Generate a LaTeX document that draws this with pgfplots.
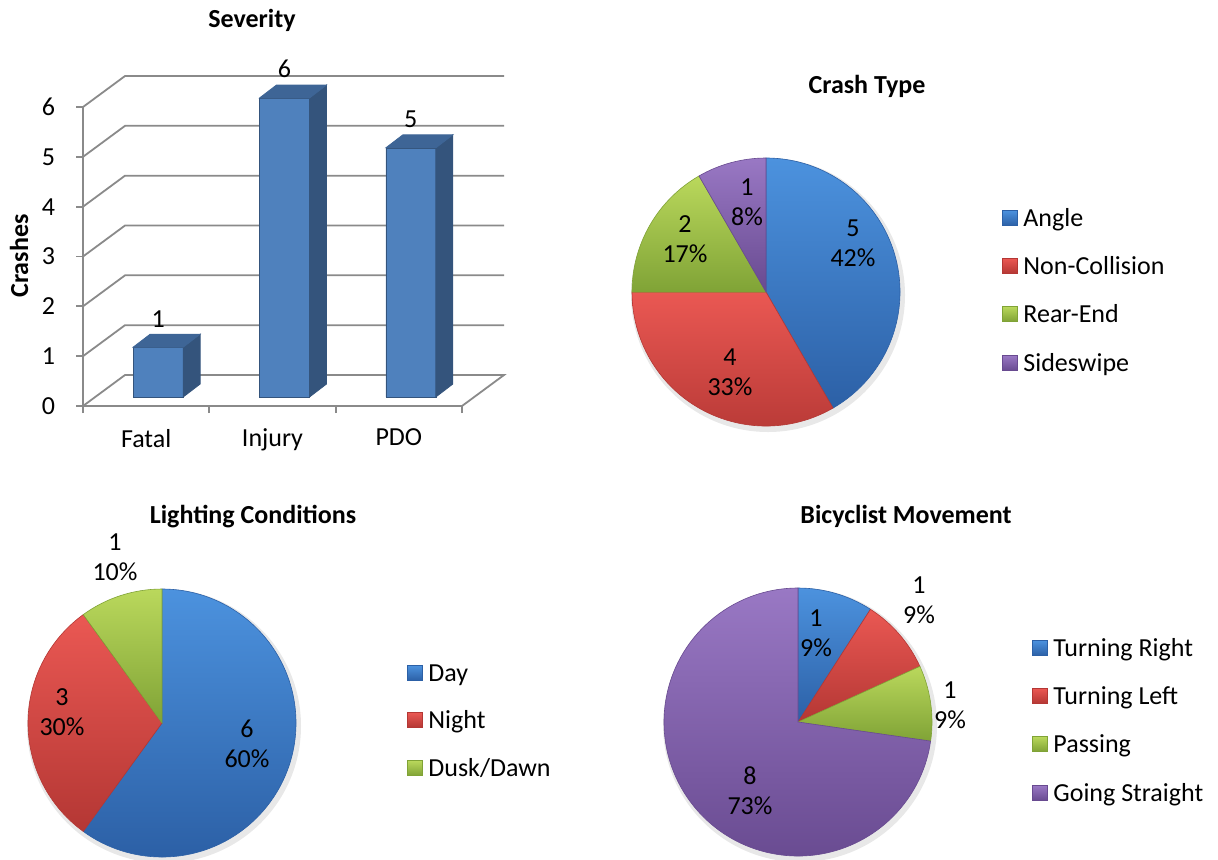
\documentclass[border=0pt]{standalone}
\usepackage{pgfplots}
\pgfplotsset{compat=1.18}
\usepackage{pgfplotstable}
\usepackage{fontspec}
\setmainfont{Carlito}
\pgfplotsset{/pgf/number format/assume math mode=true}
\pgfdeclareplotmark{emptymark}{}

\definecolor{barF}{RGB}{79,129,189}
\definecolor{barT}{RGB}{62,101,150}
\definecolor{barS}{RGB}{52,84,124}
\definecolor{gridc}{RGB}{138,138,138}
\definecolor{pblueT}{RGB}{76,146,222}
\definecolor{pblueB}{RGB}{44,96,166}
\definecolor{predT}{RGB}{234,88,83}
\definecolor{predB}{RGB}{180,55,52}
\definecolor{pgreenT}{RGB}{186,216,92}
\definecolor{pgreenB}{RGB}{128,163,54}
\definecolor{ppurpleT}{RGB}{153,120,196}
\definecolor{ppurpleB}{RGB}{104,74,144}

\pgfplotstableread{
x y
0.5 1
1.5 6
2.5 5
}\severity

\newcommand\lbl{\fontsize{13}{15}\selectfont}

% pie wedges from counts: #1 total, #2 list count/colour
\newcommand\piewedges[2]{%
  \fill[black!9] (axis cs:0,0) ++(1pt,-1.5pt) circle[radius=68.5pt];
  \xdef\pieS{90}%
  \foreach \v/\c in {#2}{%
    \pgfmathsetmacro\pieE{\pieS-360*\v/#1}%
    \shadedraw[top color=\c T, bottom color=\c B, draw=\c B, line width=0.3pt]
      (axis cs:0,0) -- ++(\pieS:67pt) arc[start angle=\pieS, end angle=\pieE, radius=67pt] -- cycle;
    \xdef\pieS{\pieE}%
  }}

% legend entry: square left x, centre y, colour, text
\newcommand\leg[4]{%
  \shadedraw[top color=#3T, bottom color=#3B, draw=#3B, line width=0.3pt] (#1,#2-7.5) rectangle ++(15,15);
  \node[anchor=base west, font=\lbl, inner sep=0pt] at (#1+21,#2-8.4) {#4};}

\begin{document}
\begin{tikzpicture}[x=0.5pt,y=0.5pt]
\useasboundingbox (0,0) rectangle (1218,859);

% ---------------- Severity (3D column chart) ----------------
\begin{axis}[at={(41.5pt,226.5pt)}, anchor=south west, scale only axis,
  width=189.5pt, height=149.5pt,
  xmin=0, xmax=3, ymin=0, ymax=6, clip=false,
  axis x line=bottom, axis y line=left,
  axis line style={draw=gridc, line width=0.9pt, -},
  ytick={0,1,2,3,4,5,6}, xtick={0,1,2,3}, xticklabels={},
  extra x ticks={0.5,1.5,2.5}, extra x tick labels={Fatal,Injury,PDO},
  extra x tick style={major tick length=0pt},
  tick align=outside, major tick length=3.5pt,
  tick style={draw=gridc, line width=0.9pt},
  ticklabel style={font=\lbl},
  yticklabel style={xshift=-7pt},
  xticklabel style={yshift=-8pt},
]
\draw[gridc, line width=0.9pt] (axis cs:0,0) -- (axis cs:0.3325,0.622) -- (axis cs:3.3325,0.622) -- (axis cs:3,0);
\draw[gridc, line width=0.9pt] (axis cs:0,1) -- (axis cs:0.3325,1.622) -- (axis cs:3.3325,1.622);
\draw[gridc, line width=0.9pt] (axis cs:0,2) -- (axis cs:0.3325,2.622) -- (axis cs:3.3325,2.622);
\draw[gridc, line width=0.9pt] (axis cs:0,3) -- (axis cs:0.3325,3.622) -- (axis cs:3.3325,3.622);
\draw[gridc, line width=0.9pt] (axis cs:0,4) -- (axis cs:0.3325,4.622) -- (axis cs:3.3325,4.622);
\draw[gridc, line width=0.9pt] (axis cs:0,5) -- (axis cs:0.3325,5.622) -- (axis cs:3.3325,5.622);
\draw[gridc, line width=0.9pt] (axis cs:0,6) -- (axis cs:0.3325,6.622) -- (axis cs:3.3325,6.622);
\end{axis}

\begin{axis}[at={(47.5pt,231pt)}, anchor=south west, scale only axis,
  width=189.5pt, height=149.5pt,
  xmin=0, xmax=3, ymin=0, ymax=6, clip=false, hide axis]
\addplot[ybar, bar width=25pt, fill=barF, draw=barS, line width=0.3pt,
  nodes near coords, nodes near coords style={font=\lbl, yshift=6.5pt}]
  table[x=x, y=y] {\severity};
\addplot[scatter, only marks, mark=emptymark,
  visualization depends on={\thisrow{y} \as \v},
  scatter/@pre marker code/.code={%
    \pgfmathsetlengthmacro\hh{\v*24.9167pt}%
    \fill[barS] (12.5pt,0pt) -- (21pt,6.5pt) -- (21pt,{6.5pt-\hh}) -- (12.5pt,{-\hh}) -- cycle;
    \fill[barT] (-12.5pt,0pt) -- (12.5pt,0pt) -- (21pt,6.5pt) -- (-4pt,6.5pt) -- cycle;
  },
  scatter/@post marker code/.code={}]
  table[x=x, y=y] {\severity};
\end{axis}

\node[rotate=90, font=\bfseries\lbl] at (19,603) {Crashes};
\node[anchor=base, font=\bfseries\lbl] at (252,831) {Severity};

% ---------------- Crash Type ----------------
\begin{axis}[at={(383pt,283.5pt)}, anchor=center, scale only axis,
  width=134pt, height=134pt, xmin=-1, xmax=1, ymin=-1, ymax=1,
  hide axis, clip=false]
\pgfplotsextra{\piewedges{12}{5/pblue,4/pred,2/pgreen,1/ppurple}}
\end{axis}
\node[anchor=base, font=\bfseries\lbl] at (867,766) {Crash Type};
\begin{scope}[every node/.style={font=\lbl, align=center, inner sep=0pt}]
\node at (853,616) {5\\42\%};
\node at (730,486.5) {4\\33\%};
\node at (685,620) {2\\17\%};
\node at (747,656.5) {1\\8\%};
\end{scope}
\leg{1002}{641}{pblue}{Angle}
\leg{1002}{593}{pred}{Non-Collision}
\leg{1002}{545}{pgreen}{Rear-End}
\leg{1002}{496}{ppurple}{Sideswipe}

% ---------------- Lighting Conditions ----------------
\begin{axis}[at={(81pt,68pt)}, anchor=center, scale only axis,
  width=134pt, height=134pt, xmin=-1, xmax=1, ymin=-1, ymax=1,
  hide axis, clip=false]
\pgfplotsextra{\piewedges{10}{6/pblue,3/pred,1/pgreen}}
\end{axis}
\node[anchor=base, font=\bfseries\lbl] at (253,336) {Lighting Conditions};
\begin{scope}[every node/.style={font=\lbl, align=center, inner sep=0pt}]
\node at (247,115) {6\\60\%};
\node at (62,147) {3\\30\%};
\node at (115,302) {1\\10\%};
\end{scope}
\leg{407}{186}{pblue}{Day}
\leg{407}{139}{pred}{Night}
\leg{407}{91}{pgreen}{Dusk/Dawn}

% ---------------- Bicyclist Movement ----------------
\begin{axis}[at={(399pt,68.5pt)}, anchor=center, scale only axis,
  width=134pt, height=134pt, xmin=-1, xmax=1, ymin=-1, ymax=1,
  hide axis, clip=false]
\pgfplotsextra{\piewedges{11}{1/pblue,1/pred,1/pgreen,8/ppurple}}
\end{axis}
\node[anchor=base, font=\bfseries\lbl] at (906,336) {Bicyclist Movement};
\begin{scope}[every node/.style={font=\lbl, align=center, inner sep=0pt}]
\node at (816,226) {1\\9\%};
\node at (919,259) {1\\9\%};
\node at (950,154) {1\\9\%};
\node at (750,68) {8\\73\%};
\end{scope}
\leg{1032}{211}{pblue}{Turning Right}
\leg{1032}{163}{pred}{Turning Left}
\leg{1032}{115}{pgreen}{Passing}
\leg{1032}{66}{ppurple}{Going Straight}
\end{tikzpicture}
\end{document}
